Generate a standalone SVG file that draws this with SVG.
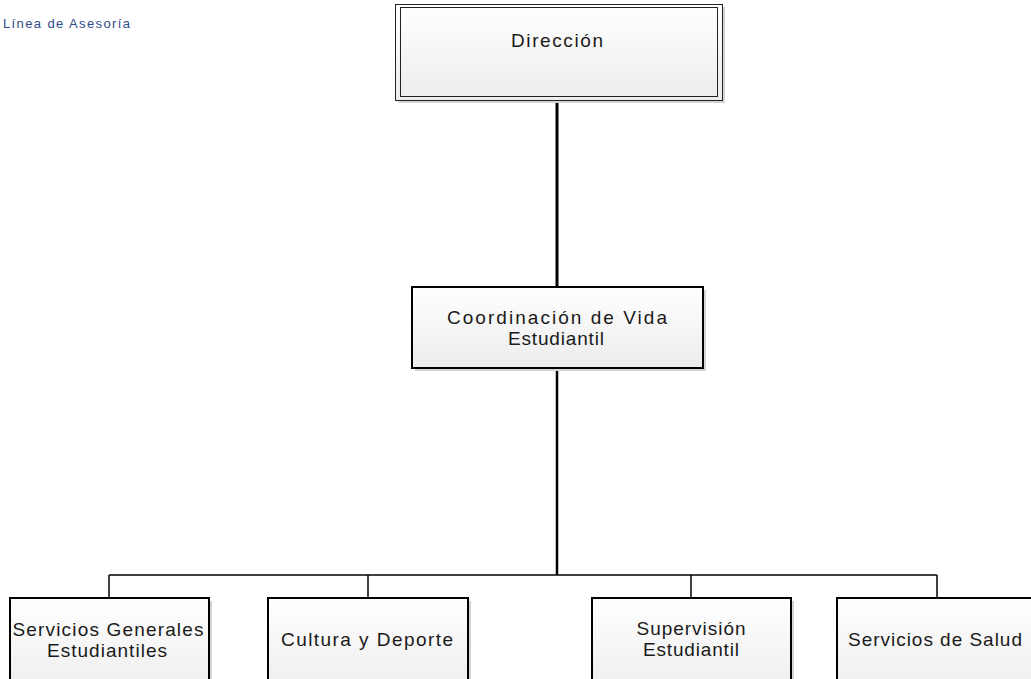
<svg xmlns="http://www.w3.org/2000/svg" width="1031" height="679" viewBox="0 0 1031 679">
  <defs>
    <linearGradient id="boxFill" x1="0" y1="0" x2="0" y2="1">
      <stop offset="0" stop-color="#ffffff"/>
      <stop offset="1" stop-color="#ececec"/>
    </linearGradient>
    <style>
      .shadow { fill: #d4d4d4; }
      .box { fill: url(#boxFill); stroke: #000; stroke-width: 2; }
      .thin { fill: none; stroke: #222; stroke-width: 1; }
      .lbl { font-family: "Liberation Sans", Arial, sans-serif; font-size: 19px; fill: #1a1a1a; text-anchor: middle; }
      .conn { stroke: #000; fill: none; }
      .legend { font-family: "Liberation Sans", Arial, sans-serif; font-size: 13px; fill: #2F4B8C; }
    </style>
  </defs>
  <rect width="1031" height="679" fill="#ffffff"/>

  <text class="legend" x="3" y="28" textLength="127" lengthAdjust="spacing">Línea de Asesoría</text>

  <g id="connectors">
    <line class="conn" x1="557" y1="100" x2="557" y2="287" stroke-width="3"/>
    <line class="conn" x1="557" y1="368" x2="557" y2="575" stroke-width="2.5"/>
    <line class="conn" x1="109" y1="575" x2="937" y2="575" stroke-width="1.5"/>
    <line class="conn" x1="109" y1="575" x2="109" y2="598" stroke-width="1.5"/>
    <line class="conn" x1="368" y1="575" x2="368" y2="598" stroke-width="1.5"/>
    <line class="conn" x1="691" y1="575" x2="691" y2="598" stroke-width="1.5"/>
    <line class="conn" x1="937" y1="575" x2="937" y2="598" stroke-width="1.5"/>
  </g>

  <g id="direccion">
    <rect class="shadow" x="398" y="7" width="327" height="96"/>
    <rect x="395.5" y="4.5" width="327" height="96" fill="url(#boxFill)" stroke="#222" stroke-width="1"/>
    <rect class="thin" x="400.5" y="7.5" width="317" height="89"/>
    <text class="lbl" x="557" y="47" textLength="92" lengthAdjust="spacing">Dirección</text>
  </g>

  <g id="coordinacion">
    <rect class="shadow" x="415" y="290" width="291" height="81"/>
    <rect class="box" x="412" y="287" width="291" height="81"/>
    <text class="lbl" x="557" y="324" textLength="220" lengthAdjust="spacing">Coordinación de Vida</text>
    <text class="lbl" x="556" y="345" textLength="96" lengthAdjust="spacing">Estudiantil</text>
  </g>

  <g id="servicios-generales">
    <rect class="shadow" x="13" y="601" width="199" height="100"/>
    <rect class="box" x="10" y="598" width="199" height="100"/>
    <text class="lbl" x="108" y="636" textLength="191" lengthAdjust="spacing">Servicios Generales</text>
    <text class="lbl" x="107" y="657" textLength="120" lengthAdjust="spacing">Estudiantiles</text>
  </g>

  <g id="cultura-deporte">
    <rect class="shadow" x="271" y="601" width="200" height="100"/>
    <rect class="box" x="268" y="598" width="200" height="100"/>
    <text class="lbl" x="367" y="646" textLength="172" lengthAdjust="spacing">Cultura y Deporte</text>
  </g>

  <g id="supervision">
    <rect class="shadow" x="595" y="601" width="199" height="100"/>
    <rect class="box" x="592" y="598" width="199" height="100"/>
    <text class="lbl" x="691" y="635" textLength="109" lengthAdjust="spacing">Supervisión</text>
    <text class="lbl" x="691" y="656" textLength="96" lengthAdjust="spacing">Estudiantil</text>
  </g>

  <g id="servicios-salud">
    <rect class="shadow" x="840" y="601" width="200" height="100"/>
    <rect class="box" x="837" y="598" width="200" height="100"/>
    <text class="lbl" x="935" y="646" textLength="174" lengthAdjust="spacing">Servicios de Salud</text>
  </g>
</svg>
